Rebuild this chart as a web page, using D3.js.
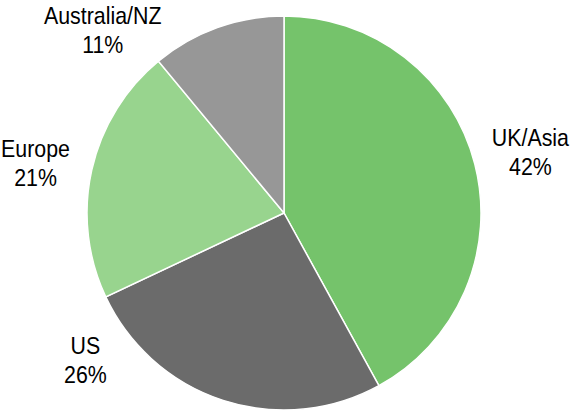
<!DOCTYPE html>
<html>
<head>
<meta charset="utf-8">
<script src="https://cdn.jsdelivr.net/npm/d3@7"></script>
<style>
  body { margin: 0; background: #fff; }
  text { font-family: "Liberation Sans", Arial, sans-serif; font-size: 24px; fill: #000; }
</style>
</head>
<body>
<div id="chart"></div>
<script>
// slice data, clockwise from 12 o'clock
var regions = ["UK/Asia", "US", "Europe", "Australia/NZ"];
var shares = [42, 26, 21, 11];
var colours = ["#75c36b", "#6b6b6b", "#98d48e", "#979797"];

var width = 574, height = 411;
var radius = 197;

var svg = d3.select("#chart")
    .append("svg")
    .attr("width", width)
    .attr("height", height)
  .append("g")
    .attr("transform", "translate(284,213)");

var pie = d3.pie()
    .sort(null)
    .value(function(d) { return d.value; });

var data = regions.map(function(r, i) { return { name: r, value: shares[i], colour: colours[i] }; });
var arcs = pie(data);

var arc = d3.arc().innerRadius(0).outerRadius(radius);

svg.selectAll("path.slice")
    .data(arcs)
  .enter().append("path")
    .attr("class", "slice")
    .attr("d", arc)
    .attr("fill", function(d) { return d.data.colour; })
    .attr("stroke", "#fff")
    .attr("stroke-width", 1.5);

// labels sit outside the pie; a couple are nudged round like Excel does
var labelRadius = 252;
var labelShift = { "UK/Asia": 2.3, "US": 34, "Europe": -3, "Australia/NZ": -26.2 }; // degrees

var labels = svg.selectAll("g.label")
    .data(arcs)
  .enter().append("g")
    .attr("class", "label")
    .attr("transform", function(d) {
        var a = (d.startAngle + d.endAngle) / 2 + labelShift[d.data.name] * Math.PI / 180;
        return "translate(" + (labelRadius * Math.sin(a)) + "," + (-labelRadius * Math.cos(a)) + ") scale(0.89,1)";
    });

labels.append("text")
    .attr("text-anchor", "middle")
    .attr("y", -14)
    .text(function(d) { return d.data.name; });

labels.append("text")
    .attr("text-anchor", "middle")
    .attr("y", 15)
    .text(function(d) { return d.data.value + "%"; });
</script>
</body>
</html>
